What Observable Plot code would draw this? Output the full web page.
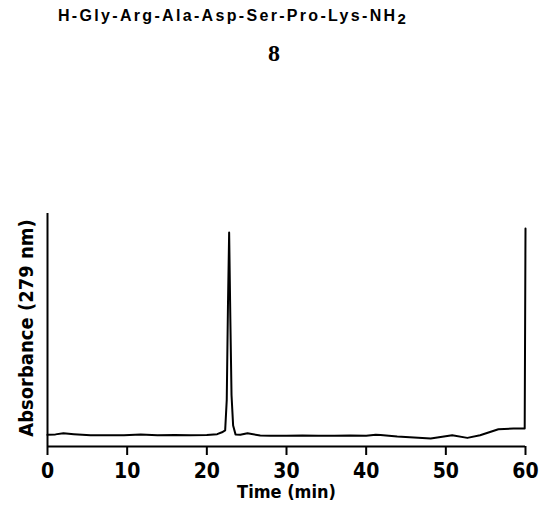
<!DOCTYPE html>
<html>
<head>
<meta charset="utf-8">
<script src="https://cdn.jsdelivr.net/npm/d3@7"></script>
<script src="https://cdn.jsdelivr.net/npm/@observablehq/plot@0.6"></script>
<style>
  html, body { margin: 0; padding: 0; background: #fff; }
  #wrap { position: relative; width: 543px; height: 508px; overflow: hidden; }
  #head { position: relative; width: 543px; height: 100px; }
  #title { position: absolute; left: 58px; top: 7px; font: bold 16px "Liberation Sans", Arial, sans-serif; letter-spacing: 1px; white-space: nowrap; color: #000; }
  #title .sub { position: relative; top: 3px; font-size: 15px; }
  #num { position: absolute; left: 0; width: 548px; text-align: center; top: 40px; font: bold 24px "Liberation Serif", "Times New Roman", serif; color: #000; }
</style>
</head>
<body>
<div id="wrap">
  <div id="head">
    <div id="title">H-Gly-Arg-Ala-Asp-Ser-Pro-Lys-NH<span class="sub">2</span></div>
    <div id="num">8</div>
  </div>
  <div id="chart"></div>
</div>
<script>
// Chromatogram trace (time in min, absorbance in arbitrary units)
const time = [0, 1, 2, 3.3, 5.4, 7.5, 9.6, 11.7, 13.8, 16, 17.9, 20, 21.3, 21.9, 22.3, 22.5, 22.65, 22.8, 22.95, 23.1, 23.3, 23.6, 24.2, 25.1, 26.7, 28, 30, 32, 34, 36, 38, 40, 41.2, 41.8, 43.9, 46, 48.1, 50.8, 52.7, 54.3, 56.6, 58.5, 59.9, 60];
const absorbance = [5.0, 5.2, 5.7, 5.3, 4.8, 4.8, 4.8, 5.15, 4.8, 4.9, 4.8, 4.9, 5.3, 6.1, 6.9, 20, 60, 91.8, 55, 22, 9, 5.2, 5.0, 5.7, 4.7, 4.6, 4.6, 4.7, 4.6, 4.6, 4.7, 4.6, 5.0, 4.9, 4.3, 3.9, 3.4, 4.8, 3.7, 4.8, 7.4, 7.7, 7.7, 93.6];
const xTicks = [0, 10, 20, 30, 40, 50, 60];
const xLabel = "Time (min)";
const yLabel = "Absorbance (279 nm)";
const yAxisTop = 100;

const trace = time.map((t, i) => ({t, a: absorbance[i]}));

const tickFont = '"DejaVu Sans Condensed", "DejaVu Sans", sans-serif';

const chart = Plot.plot({
  width: 543,
  height: 408,
  marginLeft: 47,
  marginRight: 18,
  marginTop: 113,
  marginBottom: 62,
  x: {domain: [0, 60]},
  y: {domain: [0, 100], axis: null},
  style: {background: "#fff", color: "#000"},
  marks: [
    Plot.axisX({ticks: xTicks, tickSize: 9, tickPadding: 8, strokeWidth: 2, fontSize: 21, fontFamily: tickFont, fontWeight: "bold", label: null, tickFormat: d => String(d)}),
    Plot.ruleY([0], {strokeWidth: 2}),
    Plot.ruleX([0], {y1: 0, y2: yAxisTop, strokeWidth: 2}),
    Plot.line(trace, {x: "t", y: "a", stroke: "#000", strokeWidth: 2, curve: "linear"}),
    Plot.text([xLabel], {frameAnchor: "bottom", dy: 46, fontSize: 18, fontFamily: tickFont, fontWeight: "bold", lineAnchor: "middle"}),
    Plot.text([yLabel], {frameAnchor: "left", dx: -21, dy: -2, rotate: -90, textAnchor: "middle", fontSize: 20, fontFamily: tickFont, fontWeight: "bold", lineAnchor: "middle"})
  ]
});
document.getElementById("chart").appendChild(chart);

// adjust title letter spacing so it spans the same width as in the reference
const title = document.getElementById("title");
const w = title.getBoundingClientRect().width;
const n = title.textContent.length;
title.style.letterSpacing = (1 + (350 - w) / n).toFixed(2) + "px";
</script>
</body>
</html>
